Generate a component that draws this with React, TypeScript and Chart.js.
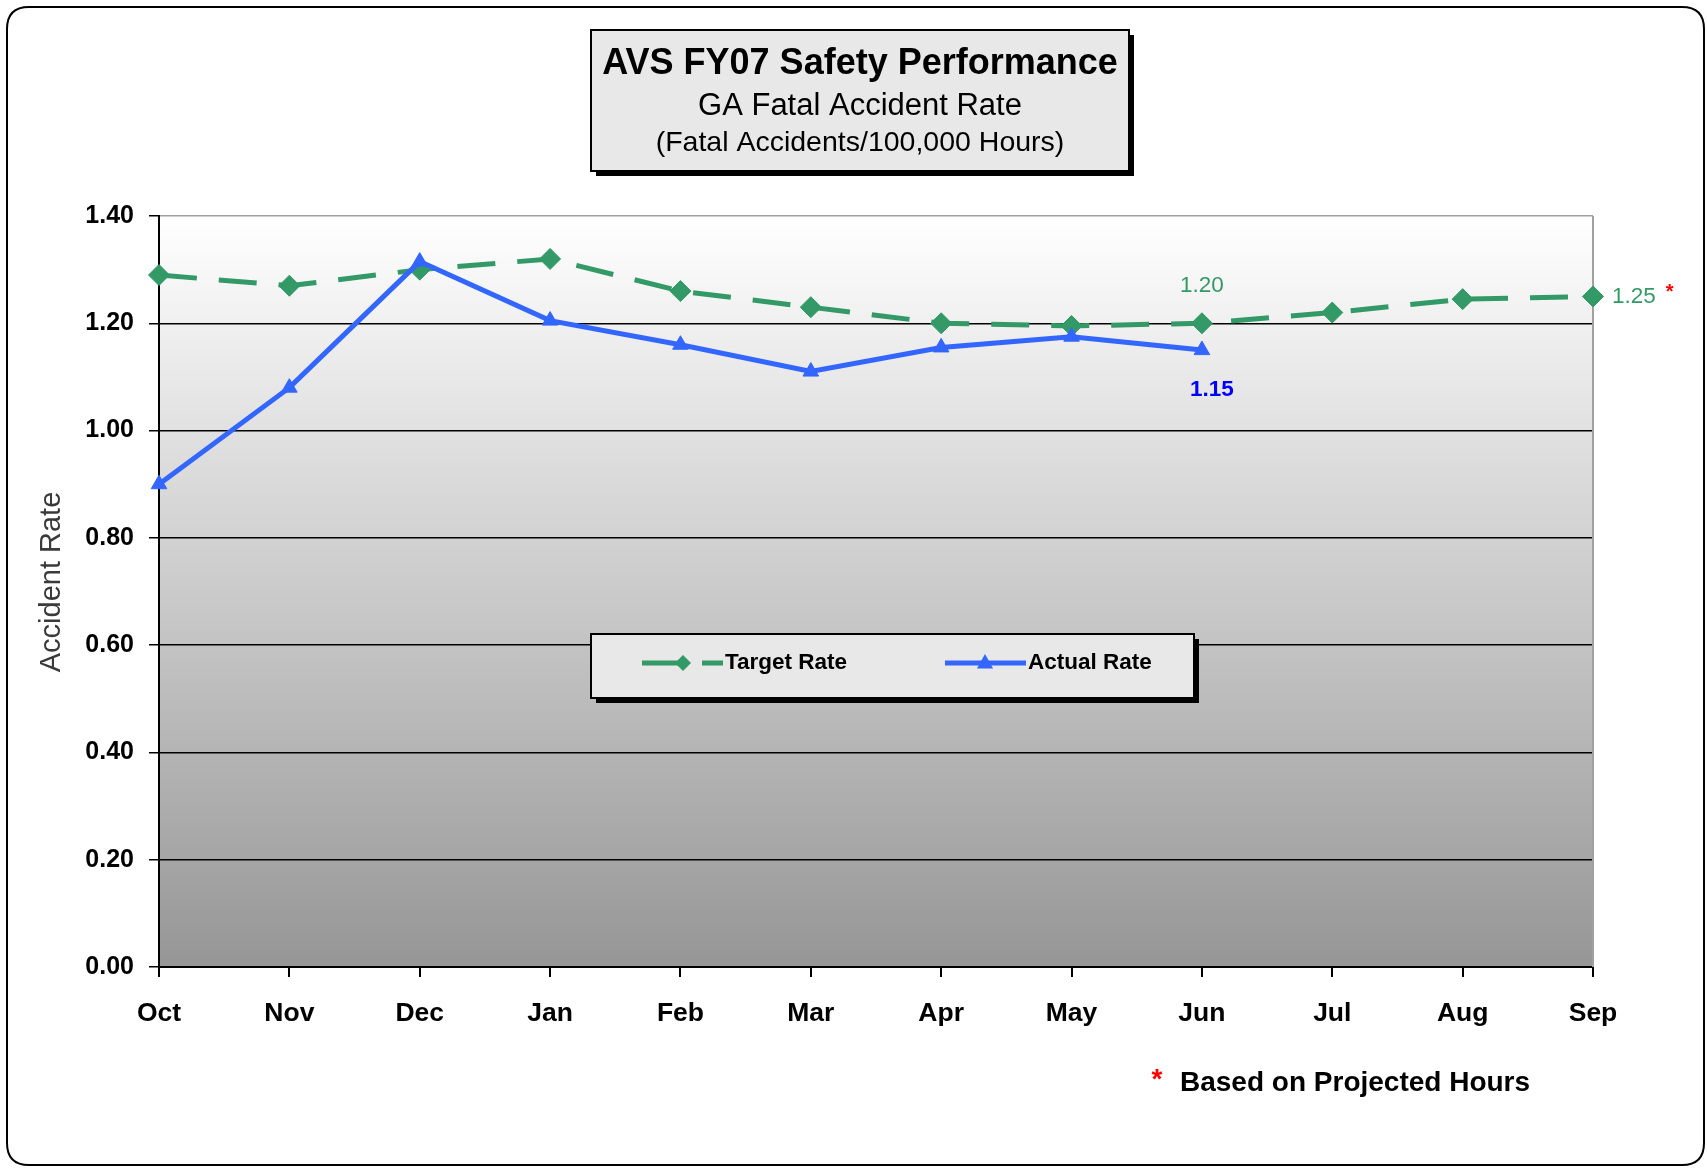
import React, { useEffect, useRef } from "react";
import { Chart, registerables } from "chart.js";

Chart.register(...registerables);

// ---------- data ----------
const months = ["Oct", "Nov", "Dec", "Jan", "Feb", "Mar", "Apr", "May", "Jun", "Jul", "Aug", "Sep"];
const targetRate = [1.29, 1.27, 1.3, 1.32, 1.26, 1.23, 1.2, 1.195, 1.2, 1.22, 1.245, 1.25];
const actualRate = [0.9, 1.08, 1.315, 1.205, 1.16, 1.11, 1.155, 1.175, 1.15];
const yMin = 0;
const yMax = 1.4;
const yStep = 0.2;
const titleLines = ["AVS FY07 Safety Performance", "GA Fatal Accident Rate", "(Fatal Accidents/100,000 Hours)"];
const yAxisTitle = "Accident Rate";
const seriesNames = ["Target Rate", "Actual Rate"];
const footnote = "Based on Projected Hours";
const targetLabelIdx = [8, 11];
const actualLabelIdx = [8];

const W = 1707;
const H = 1168;
const FONT = "'Liberation Sans', Arial, sans-serif";
const GREEN = "#339966";
const BLUE = "#3366ff";

function roundRect(ctx: CanvasRenderingContext2D, x: number, y: number, w: number, h: number, r: number) {
  ctx.beginPath();
  ctx.moveTo(x + r, y);
  ctx.lineTo(x + w - r, y);
  ctx.quadraticCurveTo(x + w, y, x + w, y + r);
  ctx.lineTo(x + w, y + h - r);
  ctx.quadraticCurveTo(x + w, y + h, x + w - r, y + h);
  ctx.lineTo(x + r, y + h);
  ctx.quadraticCurveTo(x, y + h, x, y + h - r);
  ctx.lineTo(x, y + r);
  ctx.quadraticCurveTo(x, y, x + r, y);
  ctx.closePath();
}

function shadowBox(ctx: CanvasRenderingContext2D, x: number, y: number, w: number, h: number) {
  ctx.fillStyle = "#000";
  ctx.fillRect(x + 5, y + 5, w, h);
  ctx.fillStyle = "#e8e8e8";
  ctx.fillRect(x, y, w, h);
  ctx.strokeStyle = "#000";
  ctx.lineWidth = 2;
  ctx.strokeRect(x, y, w, h);
}

function diamond(ctx: CanvasRenderingContext2D, x: number, y: number, r: number, color: string) {
  ctx.beginPath();
  ctx.moveTo(x - r, y);
  ctx.lineTo(x, y - r);
  ctx.lineTo(x + r, y);
  ctx.lineTo(x, y + r);
  ctx.closePath();
  ctx.fillStyle = color;
  ctx.fill();
}

function triangle(ctx: CanvasRenderingContext2D, x: number, y: number, r: number, color: string) {
  ctx.beginPath();
  ctx.moveTo(x, y - r);
  ctx.lineTo(x + r * 0.9, y + r * 0.6);
  ctx.lineTo(x - r * 0.9, y + r * 0.6);
  ctx.closePath();
  ctx.fillStyle = color;
  ctx.fill();
}

export default function App() {
  const ref = useRef<HTMLCanvasElement>(null);

  useEffect(() => {
    document.body.style.margin = "0";
    const canvas = ref.current;
    if (!canvas) return;

    const decor = {
      id: "decor",
      beforeDraw(chart: any) {
        const { ctx, chartArea: a } = chart;
        ctx.save();
        ctx.fillStyle = "#fff";
        ctx.fillRect(0, 0, W, H);
        roundRect(ctx, 7, 7, 1697, 1158, 22);
        ctx.strokeStyle = "#000";
        ctx.lineWidth = 2;
        ctx.stroke();
        const g = ctx.createLinearGradient(0, a.top, 0, a.bottom);
        g.addColorStop(0, "#ffffff");
        g.addColorStop(1, "#969696");
        ctx.fillStyle = g;
        ctx.fillRect(a.left, a.top, a.right - a.left, a.bottom - a.top);
        ctx.restore();
      },
      beforeDatasetsDraw(chart: any) {
        const { ctx, chartArea: a } = chart;
        ctx.save();
        ctx.strokeStyle = "#a0a0a0";
        ctx.lineWidth = 2;
        ctx.beginPath();
        ctx.moveTo(a.right, a.top);
        ctx.lineTo(a.right, a.bottom);
        ctx.stroke();
        ctx.restore();
      },
      afterDraw(chart: any) {
        const { ctx } = chart;
        const xs = chart.scales.x;
        const ys = chart.scales.y;
        ctx.save();

        // title box
        shadowBox(ctx, 591, 30, 538, 141);
        ctx.fillStyle = "#000";
        ctx.textAlign = "center";
        ctx.textBaseline = "middle";
        ctx.font = `bold 36px ${FONT}`;
        ctx.fillText(titleLines[0], 860, 64);
        ctx.font = `31px ${FONT}`;
        ctx.fillText(titleLines[1], 860, 106);
        ctx.font = `28.5px ${FONT}`;
        ctx.fillText(titleLines[2], 860, 143);

        // y axis title
        ctx.save();
        ctx.translate(52, 582);
        ctx.rotate(-Math.PI / 2);
        ctx.fillStyle = "#3a3a3a";
        ctx.font = `29px ${FONT}`;
        ctx.fillText(yAxisTitle, 0, 0);
        ctx.restore();

        // legend
        shadowBox(ctx, 591, 634, 603, 64);
        const ly = 663;
        ctx.save();
        ctx.strokeStyle = GREEN;
        ctx.lineWidth = 5;
        ctx.setLineDash([38, 22]);
        ctx.beginPath();
        ctx.moveTo(642, ly);
        ctx.lineTo(723, ly);
        ctx.stroke();
        ctx.restore();
        diamond(ctx, 683, ly, 8, GREEN);
        ctx.strokeStyle = BLUE;
        ctx.lineWidth = 5;
        ctx.beginPath();
        ctx.moveTo(945, ly);
        ctx.lineTo(1026, ly);
        ctx.stroke();
        triangle(ctx, 985, ly, 9, BLUE);
        ctx.fillStyle = "#000";
        ctx.font = `bold 22.5px ${FONT}`;
        ctx.textAlign = "left";
        ctx.fillText(seriesNames[0], 725, ly);
        ctx.fillText(seriesNames[1], 1028, ly);

        // data labels
        const tJun = targetLabelIdx[0];
        ctx.fillStyle = GREEN;
        ctx.font = `22.5px ${FONT}`;
        ctx.textAlign = "center";
        ctx.fillText(targetRate[tJun].toFixed(2), xs.getPixelForValue(tJun), ys.getPixelForValue(targetRate[tJun]) - 37);
        const tSep = targetLabelIdx[1];
        ctx.textAlign = "left";
        const sx = xs.getPixelForValue(tSep) + 19;
        const sy = ys.getPixelForValue(targetRate[tSep]);
        const s = targetRate[tSep].toFixed(2);
        ctx.fillText(s, sx, sy);
        const sw = ctx.measureText(s).width;
        ctx.fillStyle = "#ff0000";
        ctx.font = `bold 20px ${FONT}`;
        ctx.fillText("*", sx + sw + 10, sy - 4);
        const aJun = actualLabelIdx[0];
        ctx.fillStyle = "#0000ff";
        ctx.font = `bold 22.5px ${FONT}`;
        ctx.textAlign = "center";
        ctx.fillText(actualRate[aJun].toFixed(2), xs.getPixelForValue(aJun) + 10, ys.getPixelForValue(actualRate[aJun]) + 40);

        // footnote
        ctx.fillStyle = "#ff0000";
        ctx.font = `bold 28px ${FONT}`;
        ctx.textAlign = "center";
        ctx.fillText("*", 1157, 1080);
        ctx.fillStyle = "#000";
        ctx.textAlign = "left";
        ctx.fillText(footnote, 1180, 1083);

        ctx.restore();
      },
    };

    const chart = new Chart(canvas, {
      type: "line",
      data: {
        labels: months,
        datasets: [
          {
            label: seriesNames[0],
            data: targetRate,
            borderColor: GREEN,
            backgroundColor: GREEN,
            borderWidth: 5,
            borderDash: [38, 22],
            pointStyle: "rectRot",
            pointRadius: 10.5,
            pointBorderWidth: 1,
            pointBorderColor: GREEN,
            pointBackgroundColor: GREEN,
            tension: 0,
            order: 2,
          },
          {
            label: seriesNames[1],
            data: actualRate,
            borderColor: BLUE,
            backgroundColor: BLUE,
            borderWidth: 5,
            pointStyle: "triangle",
            pointRadius: 9,
            pointBorderWidth: 1,
            pointBorderColor: BLUE,
            pointBackgroundColor: BLUE,
            tension: 0,
            order: 1,
          },
        ],
      },
      options: {
        responsive: false,
        animation: false,
        devicePixelRatio: 1,
        layout: { padding: { left: 59, right: 114, top: 216, bottom: 131 } },
        plugins: {
          legend: { display: false },
          title: { display: false },
          tooltip: { enabled: false },
        },
        scales: {
          x: {
            offset: false,
            grid: { display: true, drawOnChartArea: false, drawTicks: true, tickLength: 10, tickColor: "#000", lineWidth: 2 },
            border: { color: "#000", width: 2 },
            ticks: {
              color: "#000",
              font: { family: FONT, size: 26.5, weight: "bold" },
              padding: 21,
              maxRotation: 0,
              autoSkip: false,
            },
            afterFit: (s: any) => {
              s.height = 70;
            },
          },
          y: {
            min: yMin,
            max: yMax,
            grid: {
              color: (c: any) => (c.tick && Math.abs(c.tick.value - yMax) < 1e-6 ? "#a0a0a0" : "#000"),
              lineWidth: 1.5,
              tickLength: 10,
              tickColor: "#000",
            },
            border: { color: "#000", width: 2 },
            ticks: {
              stepSize: yStep,
              color: "#000",
              font: { family: FONT, size: 25, weight: "bold" },
              padding: 15,
              callback: (v: any) => Number(v).toFixed(2),
            },
            afterFit: (s: any) => {
              s.width = 100;
            },
          },
        },
      },
      plugins: [decor],
    });

    return () => chart.destroy();
  }, []);

  return <canvas ref={ref} width={W} height={H} style={{ display: "block", width: W, height: H }} />;
}
